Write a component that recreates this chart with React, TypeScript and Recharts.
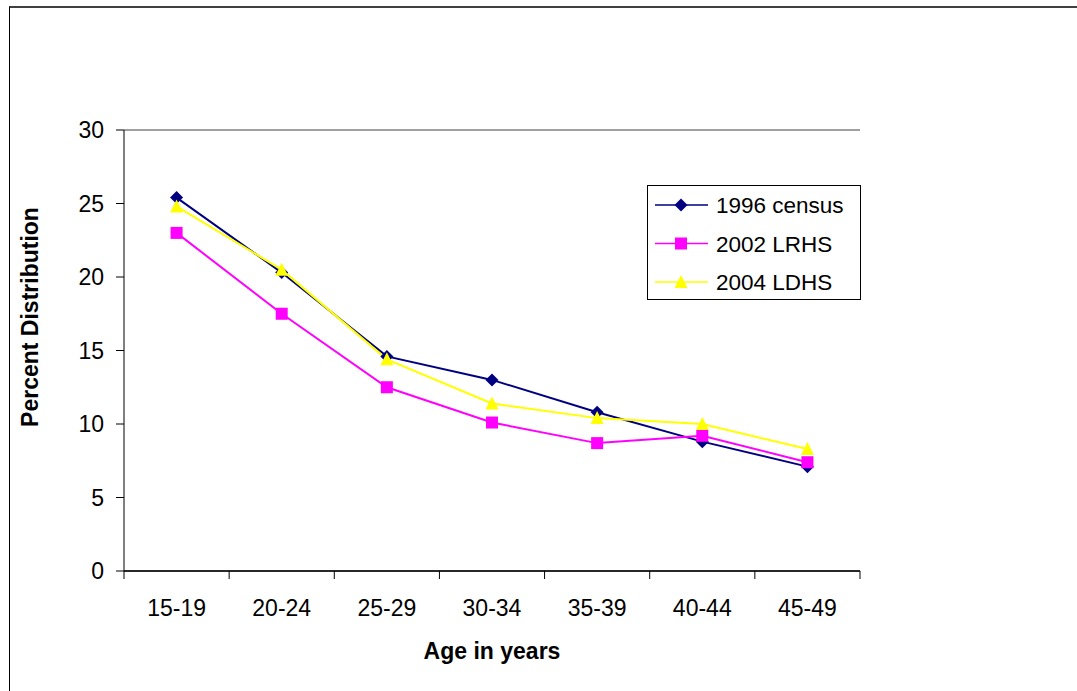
import { LineChart, Line, XAxis, YAxis, CartesianGrid, Legend, Label } from 'recharts'

const categories = ['15-19', '20-24', '25-29', '30-34', '35-39', '40-44', '45-49']
const census1996 = [25.4, 20.3, 14.6, 13.0, 10.8, 8.8, 7.1]
const lrhs2002 = [23.0, 17.5, 12.5, 10.1, 8.7, 9.2, 7.4]
const ldhs2004 = [24.8, 20.5, 14.4, 11.4, 10.4, 10.0, 8.3]
const yTicks = [0, 5, 10, 15, 20, 25, 30]

const seriesNames = ['1996 census', '2002 LRHS', '2004 LDHS']

const FONT = '"Liberation Sans", Arial, sans-serif'
const PLOT_LEFT = 124
const PLOT_RIGHT = 860
const BAND = (PLOT_RIGHT - PLOT_LEFT) / categories.length

const data = categories.map((age, i) => ({
  age,
  census: census1996[i],
  lrhs: lrhs2002[i],
  ldhs: ldhs2004[i],
}))

type Shape = 'diamond' | 'square' | 'triangle'

function Marker({ cx, cy, shape, color }: { cx: number; cy: number; shape: Shape; color: string }) {
  if (shape === 'diamond') {
    return <polygon points={`${cx},${cy - 6.5} ${cx + 6.5},${cy} ${cx},${cy + 6.5} ${cx - 6.5},${cy}`} fill={color} />
  }
  if (shape === 'square') {
    return <rect x={cx - 6} y={cy - 6} width={12} height={12} fill={color} />
  }
  return <polygon points={`${cx},${cy - 7} ${cx + 6.5},${cy + 6} ${cx - 6.5},${cy + 6}`} fill={color} />
}

const series: { key: string; name: string; color: string; shape: Shape }[] = [
  { key: 'census', name: seriesNames[0], color: '#000080', shape: 'diamond' },
  { key: 'lrhs', name: seriesNames[1], color: '#FF00FF', shape: 'square' },
  { key: 'ldhs', name: seriesNames[2], color: '#FFFF00', shape: 'triangle' },
]

const XTick = (props: any) => {
  const { x, y, payload, index } = props
  const last = index === categories.length - 1
  return (
    <g>
      <line x1={x - BAND / 2} y1={y} x2={x - BAND / 2} y2={y + 8} stroke="#000" />
      {last && <line x1={x + BAND / 2} y1={y} x2={x + BAND / 2} y2={y + 8} stroke="#000" />}
      <text x={x} y={y + 45} textAnchor="middle" fill="#000" fontSize={23} fontFamily={FONT}>
        {payload.value}
      </text>
    </g>
  )
}

const renderLegend = () => (
  <svg width={214} height={115} style={{ display: 'block' }}>
    <rect x={0.5} y={0.5} width={213} height={114} fill="#fff" stroke="#000" />
    {series.map((s, i) => {
      const cy = 20 + i * 38.5
      return (
        <g key={s.key}>
          <line x1={8} y1={cy} x2={61} y2={cy} stroke={s.color} strokeWidth={1.5} />
          <Marker cx={34} cy={cy} shape={s.shape} color={s.color} />
          <text x={69} y={cy + 8} fontSize={22.5} fontFamily={FONT} fill="#000">
            {s.name}
          </text>
        </g>
      )
    })}
  </svg>
)

export default function App() {
  return (
    <div style={{ position: 'absolute', left: 0, top: 0, width: 1077, height: 691, background: '#fff' }}>
      <div
        style={{
          position: 'absolute',
          left: 9,
          top: 6,
          width: 1068,
          height: 685,
          borderTop: '2px solid #404040',
          borderLeft: '1px solid #000',
          boxSizing: 'border-box',
        }}
      />
      <LineChart
        width={1077}
        height={691}
        data={data}
        margin={{ top: 130, right: 217, left: 34, bottom: 60 }}
        style={{ position: 'absolute', left: 0, top: 0 }}
      >
        <CartesianGrid vertical={false} stroke="#808080" strokeWidth={1.5} />
        <XAxis
          dataKey="age"
          height={60}
          padding={{ left: BAND / 2, right: BAND / 2 }}
          axisLine={{ stroke: '#000', strokeWidth: 1.5 }}
          tickLine={false}
          tickSize={0}
          tickMargin={0}
          tick={<XTick />}
          interval={0}
        >
          <Label
            content={() => (
              <text x={492} y={659} textAnchor="middle" fontSize={23} fontWeight="bold" fontFamily={FONT} fill="#000">
                Age in years
              </text>
            )}
          />
        </XAxis>
        <YAxis
          yAxisId="left"
          width={90}
          domain={[0, 30]}
          ticks={yTicks}
          axisLine={{ stroke: '#000' }}
          tickLine={{ stroke: '#000' }}
          tickSize={8}
          tickMargin={12}
          tick={{ fill: '#000', fontSize: 23, fontFamily: FONT }}
        >
          <Label
            content={() => (
              <text
                x={38}
                y={317}
                transform="rotate(-90 38 317)"
                textAnchor="middle"
                fontSize={23}
                fontWeight="bold"
                fontFamily={FONT}
                fill="#000"
              >
                Percent Distribution
              </text>
            )}
          />
        </YAxis>
        <YAxis yAxisId="right" orientation="right" width={0} domain={[0, 30]} tick={false} tickLine={false} axisLine={{ stroke: '#808080', strokeWidth: 1.5 }} />
        <Legend layout="vertical" align="center" verticalAlign="middle" content={renderLegend} wrapperStyle={{ left: 647, top: 185, width: 214, height: 115 }} />
        {series.map(s => (
          <Line
            key={s.key}
            yAxisId="left"
            type="linear"
            dataKey={s.key}
            name={s.name}
            stroke={s.color}
            strokeWidth={2}
            isAnimationActive={false}
            dot={(p: any) => <Marker key={`${s.key}-${p.index}`} cx={p.cx} cy={p.cy} shape={s.shape} color={s.color} />}
            activeDot={false}
          />
        ))}
      </LineChart>
    </div>
  )
}
